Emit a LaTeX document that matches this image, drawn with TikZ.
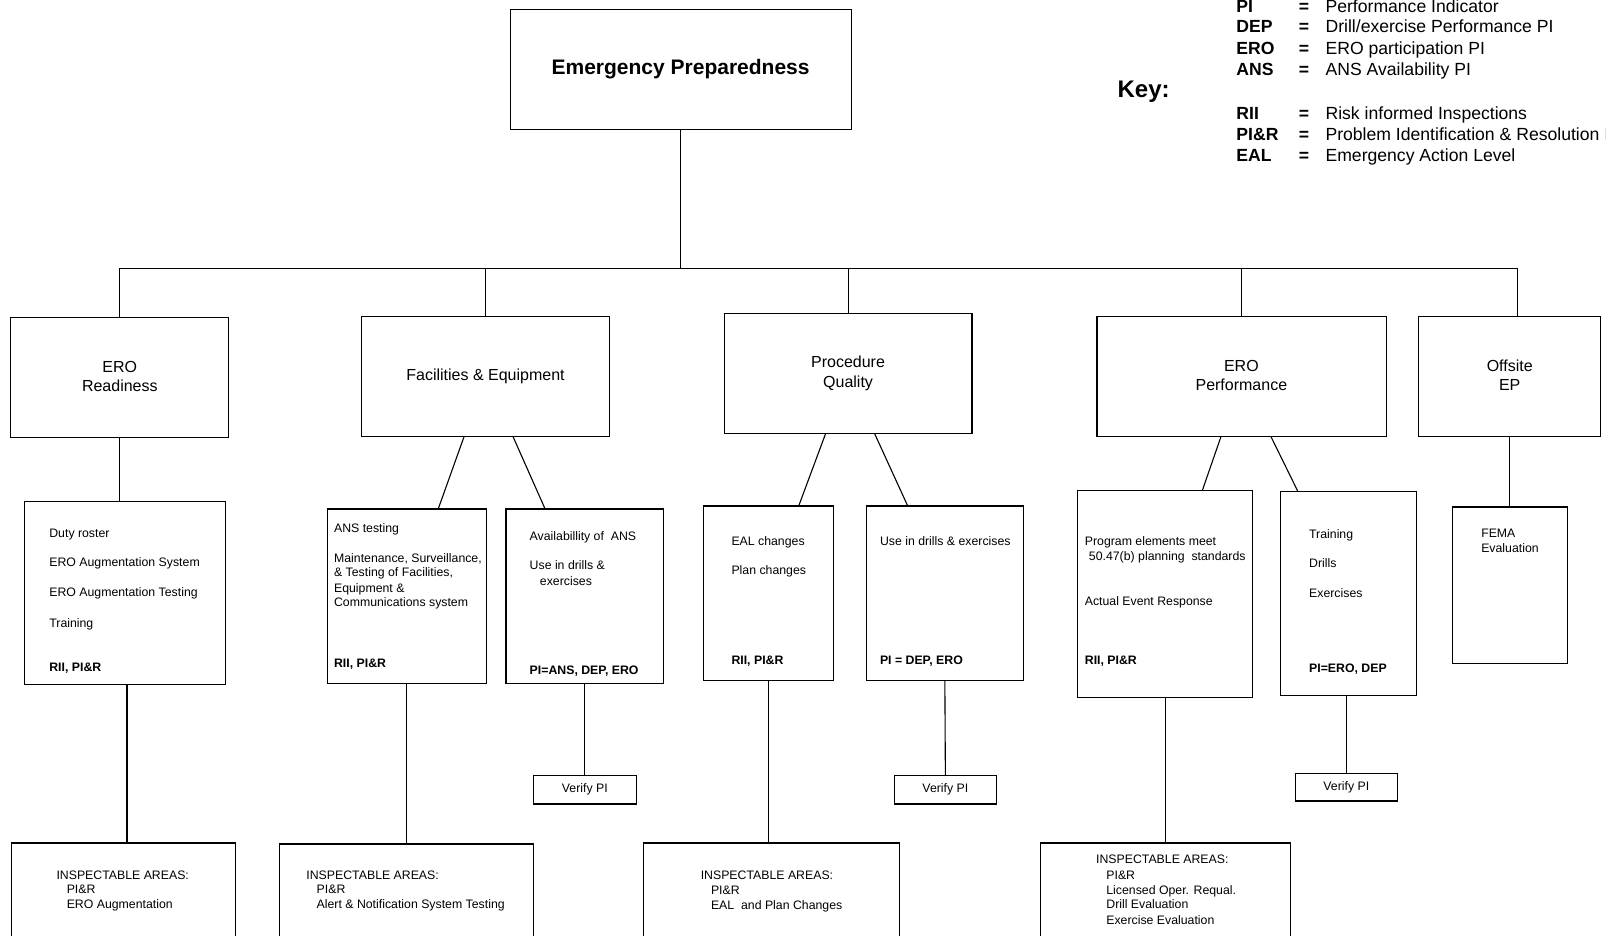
\documentclass[tikz,border=0pt]{standalone}
\usepackage{fontspec}
\setmainfont{Liberation Sans}
\usetikzlibrary{fit,calc}
\begin{document}
\begin{tikzpicture}[x=1.0242pt,y=-1.0242pt,
  box/.style={draw,line width=1.1pt,inner sep=0pt},
  conn/.style={line width=1.1pt},
  sm/.style={anchor=base west,inner sep=0pt,font=\fontsize{12.3}{14.8}\selectfont},
  smb/.style={anchor=base west,inner sep=0pt,font=\fontsize{12.3}{14.8}\selectfont\bfseries},
  smc/.style={inner sep=0pt,font=\fontsize{12.3}{14.8}\selectfont},
  med/.style={inner sep=0pt,align=center,font=\fontsize{16}{19.5}\selectfont},
  keyab/.style={anchor=base west,inner sep=0pt,font=\fontsize{17.6}{20}\selectfont\bfseries},
  keytx/.style={anchor=base west,inner sep=0pt,font=\fontsize{17.6}{20}\selectfont},
]
\useasboundingbox (0,0) rectangle (1568,913);
\clip (0,0) rectangle (1568,913);

% ---------- boxes ----------
\node[box,fit={(498,9) (831,126)}] (top) {};
\node[box,fit={(10,310) (223,427)}] (b1) {};
\node[box,fit={(353,309) (595,426)}] (b2) {};
\node[box,fit={(707,306) (949,423)}] (b3) {};
\node[box,fit={(1071,309) (1354,426)}] (b4) {};
\node[box,fit={(1385,309) (1563,426)}] (b5) {};
\node[box,fit={(24,490) (220,668)}] (c1) {};
\node[box,fit={(320,497) (475,667)}] (c2) {};
\node[box,fit={(494,497) (648,667)}] (c3) {};
\node[box,fit={(687,494) (814,664)}] (c4) {};
\node[box,fit={(846,494) (999,664)}] (c5) {};
\node[box,fit={(1052,479) (1223,681)}] (c6) {};
\node[box,fit={(1250,480) (1383,679)}] (c7) {};
\node[box,fit={(1418,495) (1530,648)}] (c8) {};
\node[box,fit={(521,757) (621,785)}] (v1) {};
\node[box,fit={(873,757) (973,785)}] (v2) {};
\node[box,fit={(1265,755) (1364,782)}] (v3) {};
\node[box,fit={(11,823) (230,960)}] (i1) {};
\node[box,fit={(273,824) (521,960)}] (i2) {};
\node[box,fit={(628,823) (878,960)}] (i3) {};
\node[box,fit={(1016,823) (1260,960)}] (i4) {};

% ---------- connectors ----------
\coordinate (busL) at (117,262);
\coordinate (busR) at (1482,262);
\draw[conn] (top.south) -- (top.south |- busL);
\draw[conn] (busL) -- (busR);
\draw[conn] (busL) -- (busL |- b1.north);
\draw[conn] (b2.north |- busL) -- (b2.north);
\draw[conn] (b3.north |- busL) -- (b3.north);
\draw[conn] (b4.north |- busL) -- (b4.north);
\draw[conn] (busR) -- (busR |- b5.north);
\draw[conn] (b1.south) -- (b1.south |- c1.north);
\draw[conn] ($(b2.south)+(-21,0)$) -- ($(c2.north)+(30.5,0)$);
\draw[conn] ($(b2.south)+(27,0)$) -- ($(c3.north)+(-39,0)$);
\draw[conn] ($(b3.south)+(-22,0)$) -- ($(c4.north)+(29.5,0)$);
\draw[conn] ($(b3.south)+(26,0)$) -- ($(c5.north)+(-36.5,0)$);
\draw[conn] ($(b4.south)+(-20.5,0)$) -- ($(c6.north)+(36.5,0)$);
\draw[conn] ($(b4.south)+(28.5,0)$) -- ($(c7.north)+(-49.5,0)$);
\draw[conn] (b5.south) -- (c8.north);
\draw[conn] (c3.south) -- (v1.north);
\draw[conn] (c5.south) -- (v2.north);
\draw[conn] (v3.north |- c7.south) -- (v3.north);
\coordinate (d1) at (124,668);
\draw[conn] (d1) -- (d1 |- i1.north);
\draw[conn] (i2.north |- c2.south) -- (i2.north);
\coordinate (d3) at (750,664);
\draw[conn] (d3) -- (d3 |- i3.north);
\draw[conn] (i4.north |- c6.south) -- (i4.north);

% ---------- top and level-2 text ----------
\node[inner sep=0pt,font=\fontsize{21}{24}\selectfont\bfseries] (ttop) at (664.5,67) {Emergency Preparedness};
\node[med] (t1) at (117,367.5) {ERO\\Readiness};
\node[med] (t2) at (474,367) {Facilities \& Equipment};
\node[med] (t3) at (828,364.5) {Procedure\\Quality};
\node[med] (t4) at (1212,366.5) {ERO\\Performance};
\node[med] (t5) at (1474,366.5) {Offsite\\EP};

% ---------- level-3 text ----------
\node[sm] (c1a) at (48,524.3) {Duty roster};
\node[sm] (c1b) at (48,553.3) {ERO Augmentation System};
\node[sm] (c1c) at (48,582.3) {ERO Augmentation Testing};
\node[sm] (c1d) at (48,612.3) {Training};
\node[smb] (c1e) at (48,655.3) {RII, PI\&R};

\node[sm] (c2a) at (326,520.3) {ANS testing};
\node[sm] (c2b) at (326,549.3) {Maintenance, Surveillance,};
\node[sm] (c2c) at (326,563.3) {\& Testing of Facilities,};
\node[sm] (c2d) at (326,578.3) {Equipment \&};
\node[sm] (c2e) at (326,592.3) {Communications system};
\node[smb] (c2f) at (326,651.3) {RII, PI\&R};

\node[sm] (c3a) at (517,527.3) {Availabillity of\ \ ANS};
\node[sm] (c3b) at (517,556.3) {Use in drills \&};
\node[sm] (c3c) at (527,571.3) {exercises};
\node[smb] (c3d) at (517,658.3) {PI=ANS, DEP, ERO};

\node[sm] (c4a) at (714,532.3) {EAL changes};
\node[sm] (c4b) at (714,561.3) {Plan changes};
\node[smb] (c4c) at (714,648.3) {RII, PI\&R};

\node[sm] (c5a) at (859,532.3) {Use in drills \& exercises};
\node[smb] (c5b) at (859,648.3) {PI = DEP, ERO};

\node[sm] (c6a) at (1059,532.3) {Program elements meet};
\node[sm] (c6b) at (1063,547.3) {50.47(b) planning\ \ standards};
\node[sm] (c6c) at (1059,591.3) {Actual Event Response};
\node[smb] (c6d) at (1059,648.3) {RII, PI\&R};

\node[sm] (c7a) at (1278,525.3) {Training};
\node[sm] (c7b) at (1278,554.3) {Drills};
\node[sm] (c7c) at (1278,583.3) {Exercises};
\node[smb] (c7d) at (1278,656.3) {PI=ERO, DEP};

\node[sm] (c8a) at (1446,524.3) {FEMA};
\node[sm] (c8b) at (1446,539.3) {Evaluation};

\node[smc] (v1t) at (v1.center) {Verify PI};
\node[smc] (v2t) at (v2.center) {Verify PI};
\node[smc] (v3t) at (v3.center) {Verify PI};

% ---------- inspectable areas ----------
\node[sm] (i1a) at (55,858.3) {INSPECTABLE AREAS:};
\node[sm] (i1b) at (65,872.3) {PI\&R};
\node[sm] (i1c) at (65,887.3) {ERO Augmentation};

\node[sm] (i2a) at (299,858.3) {INSPECTABLE AREAS:};
\node[sm] (i2b) at (309,872.3) {PI\&R};
\node[sm] (i2c) at (309,887.3) {Alert \& Notification System Testing};

\node[sm] (i3a) at (684,858.3) {INSPECTABLE AREAS:};
\node[sm] (i3b) at (694,873.3) {PI\&R};
\node[sm] (i3c) at (694,888.3) {EAL\ \ and Plan Changes};

\node[sm] (i4a) at (1070,843.3) {INSPECTABLE AREAS:};
\node[sm] (i4b) at (1080,858.3) {PI\&R};
\node[sm] (i4c) at (1080,873.3) {Licensed Oper. Requal.};
\node[sm] (i4d) at (1080,887.3) {Drill Evaluation};
\node[sm] (i4e) at (1080,902.3) {Exercise Evaluation};

% ---------- key ----------
\node[anchor=base west,inner sep=0pt,font=\fontsize{24}{28}\selectfont\bfseries] (key) at (1091,95.4) {Key:};
\node[keyab] (k1a) at (1207,12.2) {PI};
\node[keyab] (k1b) at (1268,12.2) {=};
\node[keytx] (k1c) at (1294,12.2) {Performance Indicator};
\node[keyab] (k2a) at (1207,32.2) {DEP};
\node[keyab] (k2b) at (1268,32.2) {=};
\node[keytx] (k2c) at (1294,32.2) {Drill/exercise Performance PI};
\node[keyab] (k3a) at (1207,53.2) {ERO};
\node[keyab] (k3b) at (1268,53.2) {=};
\node[keytx] (k3c) at (1294,53.2) {ERO participation PI};
\node[keyab] (k4a) at (1207,74.2) {ANS};
\node[keyab] (k4b) at (1268,74.2) {=};
\node[keytx] (k4c) at (1294,74.2) {ANS Availability PI};
\node[keyab] (k5a) at (1207,116.2) {RII};
\node[keyab] (k5b) at (1268,116.2) {=};
\node[keytx] (k5c) at (1294,116.2) {Risk informed Inspections};
\node[keyab] (k6a) at (1207,137.2) {PI\&R};
\node[keyab] (k6b) at (1268,137.2) {=};
\node[keytx] (k6c) at (1294,137.2) {Problem Identification \& Resolution Inspection};
\node[keyab] (k7a) at (1207,157.2) {EAL};
\node[keyab] (k7b) at (1268,157.2) {=};
\node[keytx] (k7c) at (1294,157.2) {Emergency Action Level};
\end{tikzpicture}
\end{document}
